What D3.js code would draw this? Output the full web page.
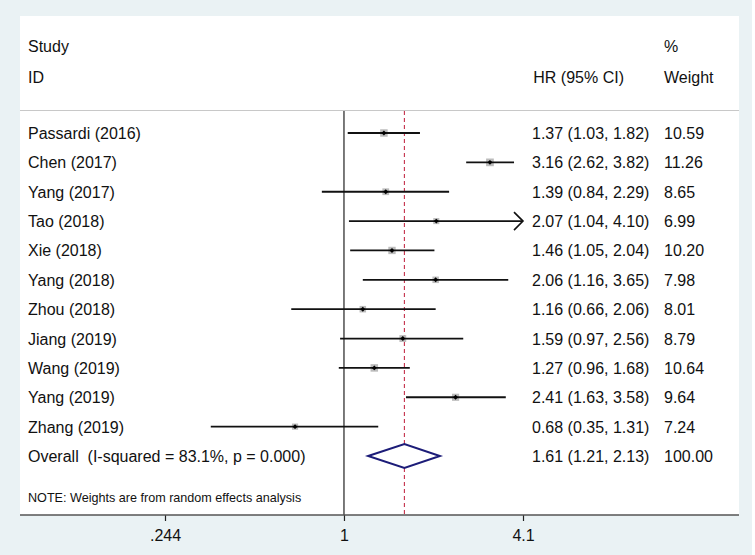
<!DOCTYPE html>
<html>
<head>
<meta charset="utf-8">
<script src="https://cdn.jsdelivr.net/npm/d3@7"></script>
<style>
  body { margin: 0; background: #fff; }
  text { font-family: "Liberation Sans", Arial, sans-serif; fill: #111; white-space: pre; }
</style>
</head>
<body>
<div id="chart"></div>
<script>
// study data
var studies = ["Passardi (2016)", "Chen (2017)", "Yang (2017)", "Tao (2018)", "Xie (2018)",
               "Yang (2018)", "Zhou (2018)", "Jiang (2019)", "Wang (2019)", "Yang (2019)", "Zhang (2019)"];
var hr    = [1.37, 3.16, 1.39, 2.07, 1.46, 2.06, 1.16, 1.59, 1.27, 2.41, 0.68];
var lower = [1.03, 2.62, 0.84, 1.04, 1.05, 1.16, 0.66, 0.97, 0.96, 1.63, 0.35];
var upper = [1.82, 3.82, 2.29, 4.10, 2.04, 3.65, 2.06, 2.56, 1.68, 3.58, 1.31];
var weights = ["10.59", "11.26", "8.65", "6.99", "10.20", "7.98", "8.01", "8.79", "10.64", "9.64", "7.24"];
var overall = { label: "Overall  (I-squared = 83.1%, p = 0.000)", hr: 1.61, lower: 1.21, upper: 2.13, weight: "100.00" };
var tickValues = [0.244, 1, 4.1];
var tickLabels = [".244", "1", "4.1"];

var W = 755, H = 555;
var svg = d3.select("#chart").append("svg").attr("width", W).attr("height", H);

// backgrounds
svg.append("rect").attr("x", 0).attr("y", 0).attr("width", 752).attr("height", H).attr("fill", "#eaf2f4");
svg.append("rect").attr("x", 20).attr("y", 16).attr("width", 719).attr("height", 499).attr("fill", "#fff");

var x = d3.scaleLog().domain([0.244, 4.1]).range([165, 523]);
var rows = studies.concat(["Overall"]);
var y = d3.scalePoint().domain(d3.range(rows.length)).range([133, 456]);

var fmt = d3.format(".2f");
function ciText(h, l, u) { return fmt(h) + " (" + fmt(l) + ", " + fmt(u) + ")"; }

// headers
var head = svg.append("g").style("font-size", "16px");
head.append("text").attr("x", 28).attr("y", 52).text("Study");
head.append("text").attr("x", 28).attr("y", 83).text("ID");
head.append("text").attr("x", 664).attr("y", 52).text("%");
head.append("text").attr("x", 664).attr("y", 83).text("Weight");
head.append("text").attr("x", 624).attr("y", 83).attr("text-anchor", "end").text("HR (95% CI)");

svg.append("line").attr("x1", 20).attr("x2", 739).attr("y1", 110.5).attr("y2", 110.5)
  .attr("stroke", "#c8c8c8").attr("stroke-width", 1.2);

// reference lines
svg.append("line").attr("x1", x(1)).attr("x2", x(1)).attr("y1", 111).attr("y2", 515)
  .attr("stroke", "#222").attr("stroke-width", 1.2);
svg.append("line").attr("x1", x(overall.hr)).attr("x2", x(overall.hr)).attr("y1", 111).attr("y2", 515)
  .attr("stroke", "#c4304a").attr("stroke-width", 1.1).attr("stroke-dasharray", "4,3");

var xMax = x.domain()[1];
var g = svg.append("g");
studies.forEach(function (s, i) {
  var cy = y(i);
  var clipped = upper[i] >= xMax;
  var x2 = clipped ? x(xMax) : x(upper[i]);
  var side = 2.3 * Math.sqrt(+weights[i]);
  g.append("rect").attr("x", x(hr[i]) - side / 2).attr("y", cy - side / 2)
    .attr("width", side).attr("height", side).attr("fill", "#bcbcbc");
  g.append("line").attr("x1", x(lower[i])).attr("x2", x2).attr("y1", cy).attr("y2", cy)
    .attr("stroke", "#111").attr("stroke-width", 1.8);
  if (clipped) {
    g.append("path").attr("d", "M" + (x2 - 9) + "," + (cy - 9) + "L" + x2 + "," + cy + "L" + (x2 - 9) + "," + (cy + 9))
      .attr("fill", "none").attr("stroke", "#111").attr("stroke-width", 1.6);
  }
  g.append("path").attr("d", d3.symbol(d3.symbolSquare, 12)())
    .attr("transform", "translate(" + x(hr[i]) + "," + cy + ") rotate(45)").attr("fill", "#000");

  g.append("text").attr("x", 28).attr("y", cy + 6).style("font-size", "16px").text(s);
  g.append("text").attr("x", 532).attr("y", cy + 6).style("font-size", "16px").text(ciText(hr[i], lower[i], upper[i]));
  g.append("text").attr("x", 664).attr("y", cy + 6).style("font-size", "16px").text(weights[i]);
});

// overall diamond
var oy = y(studies.length);
svg.append("path")
  .attr("d", "M" + x(overall.lower) + "," + oy + "L" + x(overall.hr) + "," + (oy - 12) + "L" + x(overall.upper) + "," + oy + "L" + x(overall.hr) + "," + (oy + 12) + "Z")
  .attr("fill", "#fff").attr("stroke", "#1c1c78").attr("stroke-width", 2);
svg.append("text").attr("x", 28).attr("y", oy + 6).style("font-size", "16px").text(overall.label);
svg.append("text").attr("x", 532).attr("y", oy + 6).style("font-size", "16px").text(ciText(overall.hr, overall.lower, overall.upper));
svg.append("text").attr("x", 664).attr("y", oy + 6).style("font-size", "16px").text(overall.weight);

svg.append("text").attr("x", 28).attr("y", 502).style("font-size", "12.6px")
  .text("NOTE: Weights are from random effects analysis");

// axis
var axis = d3.axisBottom(x).tickValues(tickValues).tickFormat(function (d, i) { return tickLabels[i]; })
  .tickSize(6).tickSizeOuter(0).tickPadding(9);
var ax = svg.append("g").attr("transform", "translate(0,515)").call(axis);
ax.select(".domain").remove();
ax.selectAll(".tick line").attr("stroke", "#222").attr("stroke-width", 1.2);
ax.selectAll(".tick text").style("font-size", "16px").style("font-family", "'Liberation Sans', Arial, sans-serif").attr("fill", "#111");
svg.append("line").attr("x1", 20).attr("x2", 739).attr("y1", 515).attr("y2", 515)
  .attr("stroke", "#555").attr("stroke-width", 1.5);
</script>
</body>
</html>
